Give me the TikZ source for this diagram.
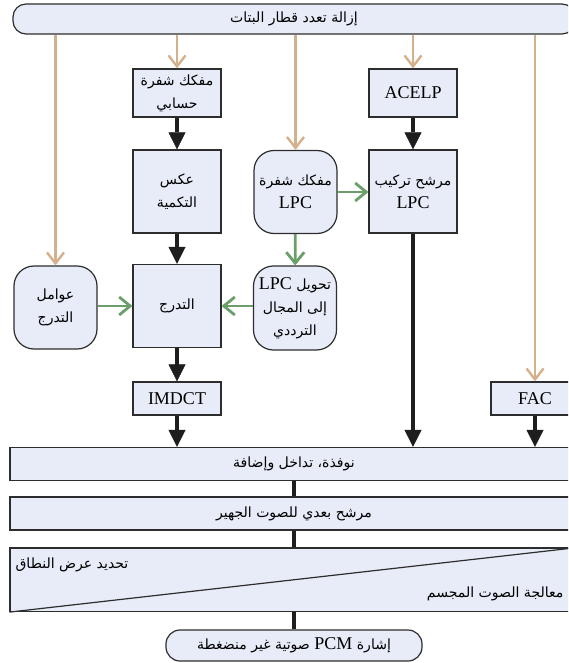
\documentclass[tikz,border=0pt]{standalone}
\usepackage{fontspec}
\setmainfont{Liberation Serif}
\newfontfamily\arabicfont[Script=Arabic,Scale=0.78]{DejaVu Sans}
\TeXXeTstate=1
\usetikzlibrary{arrows.meta,calc}
\newcommand{\artxt}[1]{{\arabicfont\beginR #1\endR}}
\newcommand{\lat}[1]{{\rmfamily\beginL #1\endL}}
\definecolor{boxc}{RGB}{232,236,248}
\definecolor{bordc}{RGB}{45,45,45}
\definecolor{arrk}{RGB}{30,30,30}
\definecolor{tanc}{RGB}{212,176,140}
\definecolor{grnc}{RGB}{106,158,106}
\begin{document}
\begin{tikzpicture}[x=1pt,y=-1pt,
  every node/.style={font=\fontsize{18}{23}\selectfont},
  blk/.style={draw=arrk, line width=3.2pt, -{Triangle[length=17pt,width=17pt,line width=0.4pt]}},
  blkline/.style={draw=arrk, line width=3.2pt},
  tan/.style={draw=tanc, line width=2.4pt, -{Straight Barb[length=11pt,width=17pt]}},
  grn/.style={draw=grnc, line width=2.8pt, -{Straight Barb[length=11pt,width=18pt]}},
  blockbase/.style={draw=bordc, fill=boxc, line width=1.2pt, align=center, inner sep=2pt},
  sqbox/.style={blockbase, rectangle, minimum width=88pt, minimum height=83pt},
  smbox/.style={blockbase, rectangle, minimum width=88pt, minimum height=48pt},
  thbox/.style={blockbase, rectangle, minimum width=88pt, minimum height=33pt},
  rbox/.style={blockbase, rectangle, rounded corners=20pt, minimum width=83pt, minimum height=83pt},
  bar/.style={blockbase, rectangle, minimum width=568pt, minimum height=33pt},
  pill/.style={blockbase, rectangle, rounded corners=13pt, minimum height=30pt}
]
\clip (0,0) rectangle (568,663);
\useasboundingbox (0,0) rectangle (568,663);

% nodes
\node[pill, minimum width=562pt] (top) at (294,19) {\artxt{إزالة تعدد قطار البتات}};
\node[smbox] (calc) at (177,93) {\artxt{مفكك شفرة}\\\artxt{حسابي}};
\node[sqbox] (invq) at (177,191.5) {\artxt{عكس}\\\artxt{التكمية}};
\node[rbox] (lpcdec) at (295.5,192) {\artxt{مفكك شفرة}\\\lat{LPC}};
\node[smbox] (acelp) at (413,93) {ACELP};
\node[sqbox] (synth) at (413,191.5) {\artxt{مرشح تركيب}\\\lat{LPC}};
\node[rbox] (sf) at (55.5,307.5) {\artxt{عوامل}\\\artxt{التدرج}};
\node[sqbox] (scl) at (177,306) {\artxt{التدرج}};
\node[rbox, minimum height=84pt] (conv) at (295,308) {\artxt{تحويل \lat{LPC}}\\\artxt{إلى المجال}\\\artxt{الترددي}};
\node[thbox] (imdct) at (177,398.5) {IMDCT};
\node[thbox] (fac) at (535,398.5) {FAC};
\node[bar] (ola) at (294,464) {\artxt{نوفذة، تداخل وإضافة}};
\node[bar] (bpf) at (294,513.5) {\artxt{مرشح بعدي للصوت الجهير}};
\node[bar, minimum height=63.5pt] (bw) at (294,579.75) {};
\draw[draw=bordc, line width=1.2pt] (bw.south west) -- (bw.north east);
\node[anchor=west, inner sep=0] (bwl) at ($(bw.north west)+(6,17)$) {\artxt{تحديد عرض النطاق}};
\node[anchor=east, inner sep=0] (bwr) at ($(bw.north east)+(-15,46)$) {\artxt{معالجة الصوت المجسم}};
\node[pill, rounded corners=14pt, minimum width=256pt, minimum height=31pt] (out) at (294,645.5) {\artxt{إشارة \lat{PCM} صوتية غير منضغطة}};

% tan arrows from the demultiplexer
\draw[tan] (top.south -| sf.north) -- (sf.north);
\draw[tan] (top.south -| calc.north) -- (calc.north);
\draw[tan] (top.south -| lpcdec.north) -- (lpcdec.north);
\draw[tan] (top.south -| acelp.north) -- (acelp.north);
\draw[tan] (top.south -| fac.north) -- (fac.north);

% black arrows
\draw[blk] (calc) -- (invq);
\draw[blk] (invq) -- (scl);
\draw[blk] (scl) -- (imdct);
\draw[blk] (imdct) -- (imdct |- ola.north);
\draw[blk] (acelp) -- (synth);
\draw[blk] (synth) -- (synth |- ola.north);
\draw[blk] (fac) -- (fac |- ola.north);
\draw[blkline] (ola) -- (bpf);
\draw[blkline] (bpf.south) -- (bpf.south |- bw.north);
\draw[blkline] (bw.south) -- (out.north);

% green arrows
\draw[grn] (lpcdec.east) -- (lpcdec.east -| synth.west);
\draw[grn] (lpcdec) -- (conv);
\draw[grn] (conv.west |- scl.east) -- (scl.east);
\draw[grn] (sf.east |- scl.west) -- (scl.west);
\end{tikzpicture}
\end{document}
